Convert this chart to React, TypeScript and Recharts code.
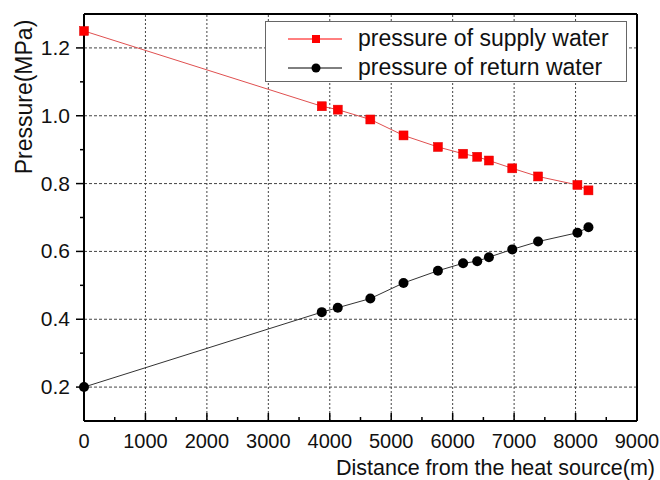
import { Label, Line, LineChart, ReferenceLine, XAxis, YAxis } from "recharts";

const distance = [0, 3870, 4130, 4660, 5200, 5760, 6170, 6400, 6590, 6970, 7390, 8030, 8210];
const supplyPressure = [1.25, 1.028, 1.018, 0.989, 0.942, 0.908, 0.888, 0.879, 0.868, 0.845, 0.821, 0.796, 0.78];
const returnPressure = [0.2, 0.421, 0.434, 0.461, 0.507, 0.543, 0.565, 0.571, 0.583, 0.606, 0.629, 0.655, 0.671];

const xMajor = [0, 1000, 2000, 3000, 4000, 5000, 6000, 7000, 8000, 9000];
const xMinor = [500, 1500, 2500, 3500, 4500, 5500, 6500, 7500, 8500];
const yMajor = [0.2, 0.4, 0.6, 0.8, 1.0, 1.2];
const yMinor = [0.3, 0.5, 0.7, 0.9, 1.1];

const data = distance.map((d, i) => ({ x: d, supply: supplyPressure[i], ret: returnPressure[i] }));

const FONT = "'Liberation Sans', Arial, sans-serif";
const GRID = "#444";

const XTick = ({ x, y, payload }: any) => {
  const major = xMajor.includes(payload.value);
  return (
    <g>
      <line x1={x} x2={x} y1={y} y2={y - (major ? 8 : 4)} stroke="#000" strokeWidth={1.5} />
      {major && (
        <text x={x} y={y + 27} textAnchor="middle" fontSize={20} fontFamily={FONT} fill="#111">
          {payload.value}
        </text>
      )}
    </g>
  );
};

const YTick = ({ x, y, payload }: any) => {
  const major = yMajor.some((v) => Math.abs(v - payload.value) < 1e-6);
  return (
    <g>
      <line x1={x} x2={x - (major ? 8 : 4)} y1={y} y2={y} stroke="#000" strokeWidth={1.5} />
      {major && (
        <text x={x - 14} y={y + 7} textAnchor="end" fontSize={21} fontFamily={FONT} fill="#111">
          {payload.value.toFixed(1)}
        </text>
      )}
    </g>
  );
};

const Square = ({ cx, cy }: any) => (
  <rect x={cx - 4.5} y={cy - 4.5} width={9} height={9} fill="#ff0000" stroke="#e00000" strokeWidth={0.5} />
);
const Circle = ({ cx, cy }: any) => <circle cx={cx} cy={cy} r={5} fill="#000" />;

const legendItems = [
  { label: "pressure of supply water", color: "#ff0000", square: true },
  { label: "pressure of return water", color: "#000", square: false },
];

const LegendBox = () => (
  <div
    style={{
      position: "absolute",
      left: 265,
      top: 21,
      border: "1px solid #666",
      background: "#fff",
      width: 362,
      height: 61,
      boxSizing: "border-box",
      fontFamily: FONT,
      fontSize: 23,
      color: "#111",
      paddingTop: 2,
    }}
  >
    {legendItems.map((e) => (
      <div key={e.label} style={{ display: "flex", alignItems: "center", height: 29, lineHeight: "29px" }}>
        <svg width={92} height={20}>
          <line x1={22} x2={76} y1={10} y2={10} stroke={e.color} strokeWidth={1} />
          {e.square ? <rect x={46} y={6} width={8} height={8} fill="#ff0000" /> : <circle cx={50} cy={10} r={4.5} fill="#000" />}
        </svg>
        <span>{e.label}</span>
      </div>
    ))}
  </div>
);

export default function App() {
  return (
    <div style={{ position: "absolute", left: 0, top: 0, width: 660, height: 480, background: "#fff" }}>
      <LineChart width={660} height={480} data={data} margin={{ top: 14, right: 23, bottom: 0, left: 0 }}>
        {xMajor.slice(1, -1).map((v) => (
          <ReferenceLine key={"gx" + v} x={v} stroke={GRID} strokeDasharray="2 2" strokeWidth={1} />
        ))}
        {yMajor.map((v) => (
          <ReferenceLine key={"gy" + v} y={v} stroke={GRID} strokeDasharray="3 2" strokeWidth={1} />
        ))}
        <ReferenceLine y={1.3} stroke="#000" strokeWidth={2} />
        <ReferenceLine x={9000} stroke="#000" strokeWidth={2} />
        <XAxis
          dataKey="x"
          type="number"
          domain={[0, 9000]}
          ticks={[...xMajor, ...xMinor].sort((a, b) => a - b)}
          interval={0}
          height={59}
          tickSize={0}
          tickMargin={0}
          tickLine={false}
          tick={<XTick />}
          axisLine={{ stroke: "#000", strokeWidth: 2 }}
        >
          <Label
            content={() => (
              <text x={655} y={475} textAnchor="end" fontSize={21.5} fontFamily={FONT} fill="#111">
                Distance from the heat source(m)
              </text>
            )}
          />
        </XAxis>
        <YAxis
          type="number"
          domain={[0.1, 1.3]}
          ticks={[...yMajor, ...yMinor].sort((a, b) => a - b)}
          interval={0}
          width={84}
          tickSize={0}
          tickMargin={0}
          tickLine={false}
          tick={<YTick />}
          axisLine={{ stroke: "#000", strokeWidth: 2 }}
        >
          <Label
            content={() => (
              <text
                x={32}
                y={97}
                transform="rotate(-90 32 97)"
                textAnchor="middle"
                fontSize={23}
                fontFamily={FONT}
                fill="#111"
              >
                Pressure(MPa)
              </text>
            )}
          />
        </YAxis>
        <Line
          dataKey="supply"
          stroke="#e05050"
          strokeWidth={1}
          dot={<Square />}
          activeDot={false}
          isAnimationActive={false}
        />
        <Line
          dataKey="ret"
          stroke="#333"
          strokeWidth={1}
          dot={<Circle />}
          activeDot={false}
          isAnimationActive={false}
        />
      </LineChart>
      <LegendBox />
    </div>
  );
}
